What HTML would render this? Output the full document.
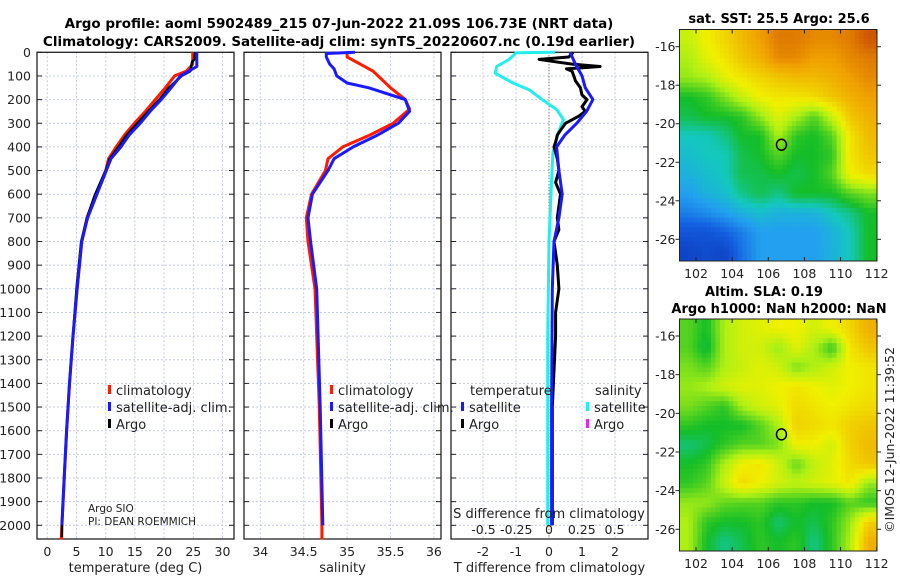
<!DOCTYPE html>
<html><head><meta charset="utf-8">
<style>
body{margin:0;background:#fff;}
svg{display:block;font-family:"DejaVu Sans","Liberation Sans",sans-serif;}
</style></head>
<body>
<svg id="fig" width="900" height="580" viewBox="0 0 900 580" xmlns="http://www.w3.org/2000/svg">
<text x="339" y="28" text-anchor="middle" font-size="13.5" font-weight="bold">Argo profile: aoml 5902489_215 07-Jun-2022 21.09S 106.73E (NRT data)</text>
<text x="339" y="46" text-anchor="middle" font-size="13.5" font-weight="bold">Climatology: CARS2009. Satellite-adj clim: synTS_20220607.nc (0.19d earlier)</text>
<text x="779" y="23" text-anchor="middle" font-size="13" font-weight="bold">sat. SST: 25.5 Argo: 25.6</text>
<text x="764" y="296" text-anchor="middle" font-size="13" font-weight="bold">Altim. SLA: 0.19</text>
<text x="779" y="313" text-anchor="middle" font-size="13" font-weight="bold">Argo h1000: NaN h2000: NaN</text>
<text transform="translate(894,440) rotate(-90)" text-anchor="middle" font-size="12.5" fill="#222">©IMOS 12-Jun-2022 11:39:52</text>
<g id="g"></g>
</svg>
<script>
// ---- profile data ----
const depthsRed = [0,50,80,100,150,200,250,300,350,400,450,500,600,700,800,1000,1200,1400,1600,1800,2000,2060];
const tempClim  = [24.9,24.9,23.8,21.8,20.2,18.5,16.8,14.9,13.2,11.8,10.5,10.0,8.3,6.8,5.9,5.1,4.4,3.8,3.3,2.9,2.5,2.4];
const depthsBlue = [0,60,100,150,200,250,300,350,400,450,500,600,700,800,1000,1200,1400,1600,1800,2000];
const tempSat    = [25.6,25.6,22.8,21.2,19.5,17.6,15.9,14.0,12.6,10.9,10.1,8.5,6.9,5.9,5.1,4.4,3.8,3.3,2.9,2.5];
const depthsArgo = [0,30,40,80,100,150,200,250,300,350,400,450,500,600,700,800,1000,1200,1400,1600,1800,2000,2050];
const tempArgo   = [25.3,25.2,24.8,24.5,23.0,20.8,19.2,17.3,15.4,13.6,12.2,10.7,10.0,8.2,6.8,5.8,5.0,4.4,3.8,3.3,2.9,2.5,2.5];
const salDepthsRed = [0,20,50,80,150,200,240,300,350,400,450,500,600,700,800,1000,1500,2000,2060];
const salClim      = [35.0,35.0,35.15,35.3,35.5,35.67,35.72,35.53,35.26,34.95,34.78,34.75,34.59,34.53,34.55,34.63,34.68,34.71,34.71];
const salDepthsBlue = [0,5,20,50,70,100,130,150,200,250,300,350,400,450,500,600,700,800,1000,1500,2000];
const salSat        = [35.09,34.76,34.76,34.8,34.85,34.88,35.0,35.25,35.67,35.72,35.59,35.35,35.07,34.85,34.78,34.6,34.55,34.58,34.65,34.69,34.72];
const dTDepthsSat = [0,50,100,150,200,250,300,350,400,500,600,700,800,1000,1500,2000];
const dTSat       = [0.64,0.8,1.0,1.1,1.33,1.14,0.84,0.48,0.23,0.3,0.4,0.3,0.15,0.1,0.08,0.08];
const dTDepthsArgo = [0,20,30,40,50,60,70,80,100,120,150,180,200,230,250,270,300,330,350,380,400,450,500,550,600,650,700,750,800,900,1000,1100,1200,1500,2000];
const dTArgo       = [0.73,0.6,-0.3,0.2,0.7,1.55,0.53,0.7,0.75,0.8,0.95,1.0,1.15,1.0,1.1,0.9,0.5,0.35,0.25,0.2,0.15,0.25,0.3,0.2,0.35,0.3,0.25,0.3,0.15,0.25,0.3,0.2,0.2,0.1,0.1];
const dSDepthsSat = [0,2,32,60,89,131,159,201,243,285,341,425,539,800,1200,2000];
const dSSat       = [0.045,-0.25,-0.31,-0.4,-0.41,-0.27,-0.15,-0.05,0.06,0.11,0.07,0.03,0.02,0.0,-0.01,-0.01];
const depthTicks = [0,100,200,300,400,500,600,700,800,900,1000,1100,1200,1300,1400,1500,1600,1700,1800,1900,2000];
const tempTicks = [0,5,10,15,20,25,30];
const salTicks = [34,34.5,35,35.5,36];
const dTTicks = [-2,-1,0,1,2];
const dSTicks = [-0.5,-0.25,0,0.25,0.5];
// ---- map data (value 0..1 on colour scale), rows from north to south ----
const sstGrid = [
[0.65,0.7,0.75,0.8,0.85,0.9,0.9,0.88,0.88,0.9,0.95],
[0.62,0.68,0.72,0.78,0.82,0.88,0.88,0.85,0.85,0.88,0.9],
[0.6,0.62,0.68,0.72,0.75,0.78,0.8,0.8,0.82,0.85,0.88],
[0.5,0.52,0.58,0.65,0.7,0.72,0.72,0.74,0.78,0.82,0.85],
[0.48,0.5,0.5,0.52,0.6,0.68,0.62,0.55,0.65,0.78,0.82],
[0.42,0.42,0.45,0.5,0.5,0.62,0.52,0.5,0.55,0.72,0.8],
[0.4,0.42,0.42,0.48,0.5,0.55,0.5,0.5,0.52,0.72,0.78],
[0.38,0.4,0.42,0.48,0.48,0.5,0.48,0.5,0.55,0.7,0.74],
[0.35,0.38,0.4,0.45,0.48,0.45,0.5,0.5,0.5,0.55,0.58],
[0.3,0.32,0.35,0.38,0.4,0.38,0.38,0.38,0.42,0.45,0.5],
[0.22,0.22,0.25,0.3,0.35,0.35,0.35,0.35,0.38,0.42,0.5],
[0.18,0.2,0.18,0.28,0.35,0.35,0.35,0.35,0.38,0.42,0.5]];
const slaGrid = [
[0.55,0.5,0.62,0.66,0.68,0.7,0.7,0.66,0.7,0.75,0.82],
[0.55,0.48,0.62,0.66,0.66,0.6,0.68,0.62,0.52,0.72,0.78],
[0.58,0.55,0.62,0.65,0.68,0.66,0.58,0.62,0.66,0.7,0.72],
[0.6,0.62,0.66,0.68,0.68,0.7,0.72,0.7,0.68,0.7,0.72],
[0.58,0.55,0.52,0.62,0.66,0.68,0.74,0.72,0.7,0.72,0.74],
[0.52,0.5,0.5,0.5,0.55,0.62,0.76,0.74,0.72,0.76,0.78],
[0.46,0.48,0.52,0.55,0.55,0.58,0.7,0.7,0.66,0.76,0.8],
[0.5,0.52,0.62,0.7,0.72,0.66,0.56,0.64,0.68,0.74,0.78],
[0.52,0.55,0.65,0.74,0.7,0.66,0.64,0.66,0.68,0.72,0.6],
[0.6,0.6,0.56,0.55,0.55,0.52,0.52,0.5,0.5,0.55,0.52],
[0.62,0.52,0.5,0.5,0.52,0.46,0.5,0.48,0.52,0.6,0.76],
[0.62,0.5,0.45,0.48,0.52,0.5,0.52,0.45,0.52,0.62,0.82]];
const lonTicks = [102,104,106,108,110,112];
const latTicks = [-16,-18,-20,-22,-24,-26];
const argoLon = 106.73, argoLat = -21.09;

const NS='http://www.w3.org/2000/svg';
const G=document.getElementById('g');
function el(tag,attrs,parent){const e=document.createElementNS(NS,tag);for(const k in attrs)e.setAttribute(k,attrs[k]);(parent||G).appendChild(e);return e;}
function txt(s,attrs,parent){const e=el('text',attrs,parent);e.textContent=s;return e;}

const yTop=52.3, yBot=539, pxPer=0.2365;
const yD=d=>yTop+d*pxPer;
const panels=[
 {name:'temperature-panel',x0:37,x1:234,fx:v=>47.3+v*5.84,ticks:tempTicks,label:'temperature (deg C)',ylabels:true},
 {name:'salinity-panel',x0:244,x1:441,fx:v=>260.3+(v-34)*86.8,ticks:salTicks,label:'salinity'},
 {name:'difference-panel',x0:451,x1:648,fx:v=>549+v*33,ticks:dTTicks,label:'T difference from climatology'}
];
function drawPanel(p){
 const g=el('g',{});
 
 
 depthTicks.forEach(d=>{
  const l=el('line',{x1:p.x0,x2:p.x1,y1:yD(d),y2:yD(d),stroke:'#c4cbe6','stroke-width':1,'stroke-dasharray':'2,2'},g);
  
  
  el('line',{x1:p.x0,x2:p.x0+5,y1:yD(d),y2:yD(d),stroke:'#222'},g);
  el('line',{x1:p.x1-5,x2:p.x1,y1:yD(d),y2:yD(d),stroke:'#222'},g);
  if(p.ylabels){const t=txt(String(d),{x:31,y:yD(d)+4.5,'text-anchor':'end','font-size':12.5,fill:'#222'});
   
   }
 });
 p.ticks.forEach(v=>{
  const x=p.fx(v);
  el('line',{x1:x,x2:x,y1:yTop,y2:yBot,stroke:'#c4cbe6','stroke-width':1,'stroke-dasharray':'2,2'},g);
  const t=txt(String(v),{x:x,y:556,'text-anchor':'middle','font-size':12.5,fill:'#222'},g);
  
  
 });
 el('rect',{x:p.x0,y:yTop,width:p.x1-p.x0,height:yBot-yTop,fill:'none',stroke:'#222','stroke-width':1.3},g);
 const xl=txt(p.label,{x:(p.x0+p.x1)/2,y:572,'text-anchor':'middle','font-size':13,fill:'#222'},g);
 
 
 return g;
}
function line(depths,vals,fx,color,name,w){
 const pts=depths.map((d,i)=>fx(vals[i]).toFixed(1)+','+yD(d).toFixed(1)).join(' ');
 const e=el('polyline',{points:pts,fill:'none',stroke:color,'stroke-width':w||3,'stroke-linejoin':'round'});
 
 
}
const gp=panels.map(drawPanel);
line(depthsRed,tempClim,panels[0].fx,'#ff1a00','temp-climatology-line');
line(depthsArgo,tempArgo,panels[0].fx,'#000','temp-argo-line',2.5);
line(depthsBlue,tempSat,panels[0].fx,'#1a1aff','temp-satellite-line');
line(salDepthsRed,salClim,panels[1].fx,'#ff1a00','sal-climatology-line');
line(salDepthsBlue,salSat,panels[1].fx,'#1a1aff','sal-satellite-line');
const fdS=v=>549+v*131;
el('line',{x1:549,x2:549,y1:yTop,y2:yBot,stroke:'#556b2f','stroke-width':1,'stroke-dasharray':'1,2'});
line(dSDepthsSat,dSSat,fdS,'#22eeee','sal-diff-satellite-line');
line(dTDepthsArgo,dTArgo,panels[2].fx,'#000','temp-diff-argo-line',3);
line(dTDepthsSat,dTSat,panels[2].fx,'#1a1aff','temp-diff-satellite-line');
dSTicks.forEach(v=>{const t=txt(String(v),{x:fdS(v),y:534,'text-anchor':'middle','font-size':12.5,fill:'#222'});
 
 });
const sdl=txt('S difference from climatology',{x:549,y:518,'text-anchor':'middle','font-size':13,fill:'#222'});


function legend(x,y,color,label){
 const g=el('g',{});
 
 
 el('rect',{x:x,y:y-10,width:3,height:9,fill:color},g);
 txt(label,{x:x+8,y:y,'font-size':13,fill:'#222'},g);
}
[[108,'#ff1a00','climatology',395],[108,'#1a1aff','satellite-adj. clim.',412],[108,'#000','Argo',429],
 [330,'#ff1a00','climatology',395],[330,'#1a1aff','satellite-adj. clim.',412],[330,'#000','Argo',429],
 [461,'#1a1aff','satellite',412],[461,'#000','Argo',429],[586,'#22eeee','satellite',412],[586,'#ee22ee','Argo',429]
].forEach(a=>legend(a[0],a[3],a[1],a[2]));
const lt=txt('temperature',{x:470,y:395,'font-size':13,fill:'#222'});


const ls=txt('salinity',{x:595,y:395,'font-size':13,fill:'#222'});


const pi=txt('Argo SIO',{x:88,y:512,'font-size':10.5,fill:'#222'});


const pi2=txt('PI: DEAN ROEMMICH',{x:88,y:525,'font-size':10.5,fill:'#222'});



// ---- maps ----
const stops=[[0.1,[10,40,170]],[0.25,[20,95,225]],[0.35,[35,160,240]],[0.42,[20,200,190]],[0.5,[20,190,40]],[0.62,[175,240,20]],[0.7,[240,240,0]],[0.85,[240,160,0]],[1,[190,50,0]]];
function cmap(v){
 if(v<=stops[0][0])return 'rgb('+stops[0][1]+')';
 for(let i=1;i<stops.length;i++){if(v<=stops[i][0]){const a=stops[i-1],b=stops[i],t=(v-a[0])/(b[0]-a[0]);
  return 'rgb('+a[1].map((c,k)=>Math.round(c+(b[1][k]-c)*t)).join(',')+')';}}
 return 'rgb('+stops[stops.length-1][1]+')';
}
function sample(grid,r,c){
 const R=grid.length-1,C=grid[0].length-1;
 r=Math.max(0,Math.min(R,r));c=Math.max(0,Math.min(C,c));
 const r0=Math.floor(r),c0=Math.floor(c),r1=Math.min(R,r0+1),c1=Math.min(C,c0+1),fr=r-r0,fc=c-c0;
 return grid[r0][c0]*(1-fr)*(1-fc)+grid[r0][c1]*(1-fr)*fc+grid[r1][c0]*fr*(1-fc)+grid[r1][c1]*fr*fc;
}
function drawMap(grid,x0,x1,yT,yB,y16,y26,name){
 const g=el('g',{});
 
 
 const fx=lon=>696+(lon-102)*18.07;
 const pl=(y26-y16)/10;
 const fy=lat=>y16+(-16-lat)*pl;
 const rows=grid.length, cols=grid[0].length, S=4;
 const cw=(x1-x0)/(cols*S), ch=(yB-yT)/(rows*S);
 for(let r=0;r<rows*S;r++)for(let c=0;c<cols*S;c++){
  const v=sample(grid,(r+0.5)/S-0.5,(c+0.5)/S-0.5);
  const cell=el('rect',{x:(x0+c*cw).toFixed(2),y:(yT+r*ch).toFixed(2),width:(cw+0.4).toFixed(2),height:(ch+0.4).toFixed(2),fill:cmap(v)},g);
  
  
 }
 el('rect',{x:x0,y:yT,width:x1-x0,height:yB-yT,fill:'none',stroke:'#222','stroke-width':1},g);
 lonTicks.forEach(l=>{const x=fx(l);el('line',{x1:x,x2:x,y1:yB,y2:yB-4,stroke:'#222'},g);el('line',{x1:x,x2:x,y1:yT,y2:yT+4,stroke:'#222'},g);
  const t=txt(String(l),{x:x,y:yB+17,'text-anchor':'middle','font-size':12.5,fill:'#222'},g);
  
  });
 latTicks.forEach(l=>{const y=fy(l);el('line',{x1:x0,x2:x0-4,y1:y,y2:y,stroke:'#222'},g);el('line',{x1:x1,x2:x1+4,y1:y,y2:y,stroke:'#222'},g);
  const t=txt(String(l),{x:x0-4,y:y+4.5,'text-anchor':'end','font-size':12.5,fill:'#222'},g);
  
  });
 const c=el('ellipse',{cx:fx(argoLon),cy:fy(argoLat),rx:5,ry:5.5,fill:'none',stroke:'#000','stroke-width':1.5},g);
 
 
}
drawMap(sstGrid,679.5,877,29.5,261,46.7,239.3,'sst-map');
drawMap(slaGrid,679.5,877,319,551,336,529.3,'sla-map');
</script>
</body></html>
